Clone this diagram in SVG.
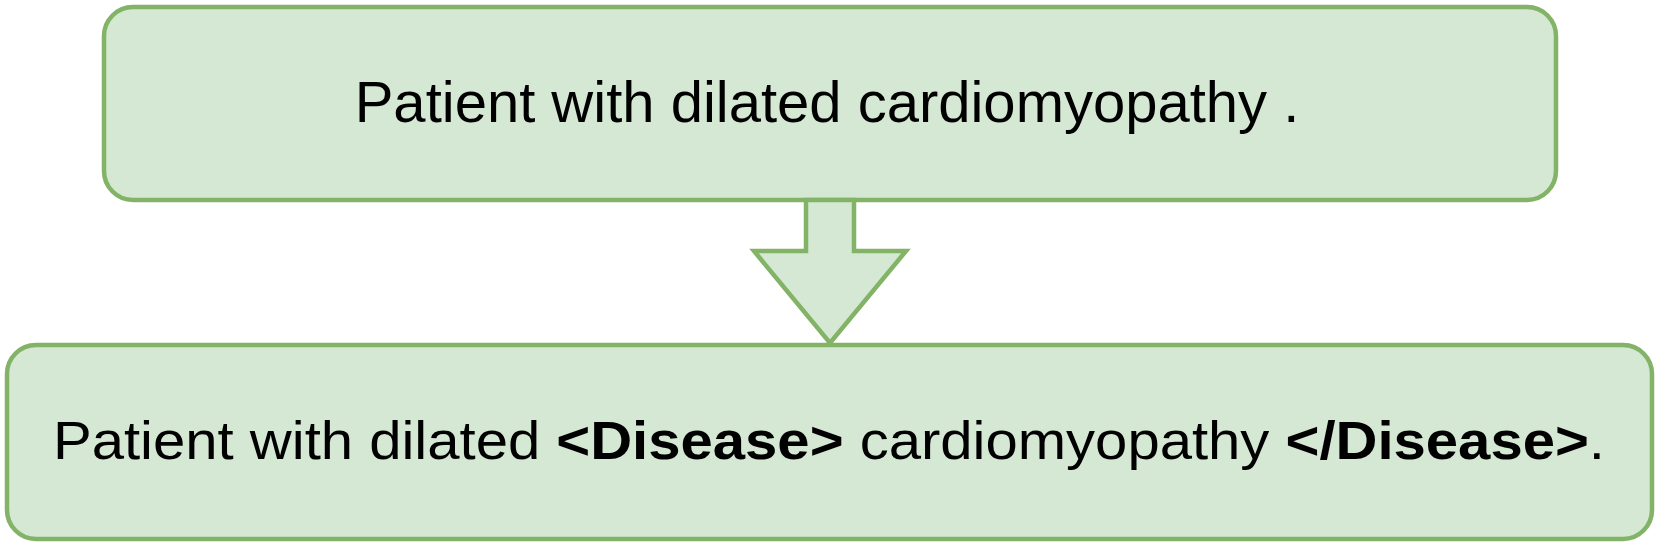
<svg xmlns="http://www.w3.org/2000/svg" width="1660" height="558" viewBox="0 0 1660 558">
<style>
.box{fill:#d5e8d4;stroke:#82b366;stroke-width:4.5}
.t{font-family:"Liberation Sans",Arial,sans-serif;fill:#000}
.b{font-weight:bold}
</style>
<rect width="1660" height="558" fill="#ffffff"/>
<g id="top-node">
<rect class="box" x="104" y="7" width="1452" height="193" rx="29" ry="29"/>
<text class="t" x="827" y="122" font-size="58" text-anchor="middle">Patient with dilated cardiomyopathy .</text>
</g>
<g id="connectors">
<path class="box" stroke-linejoin="miter" d="M806,200 L854,200 L854,251 L906,251 L830,343 L754,251 L806,251 Z"/>
</g>
<g id="bottom-node">
<rect class="box" x="7" y="345" width="1645" height="194" rx="29" ry="29"/>
<text class="t" x="53" y="459" font-size="54" textLength="1552" lengthAdjust="spacingAndGlyphs">Patient with dilated <tspan class="b">&lt;Disease&gt;</tspan> cardiomyopathy <tspan class="b">&lt;/Disease&gt;</tspan>.</text>
</g>
</svg>
